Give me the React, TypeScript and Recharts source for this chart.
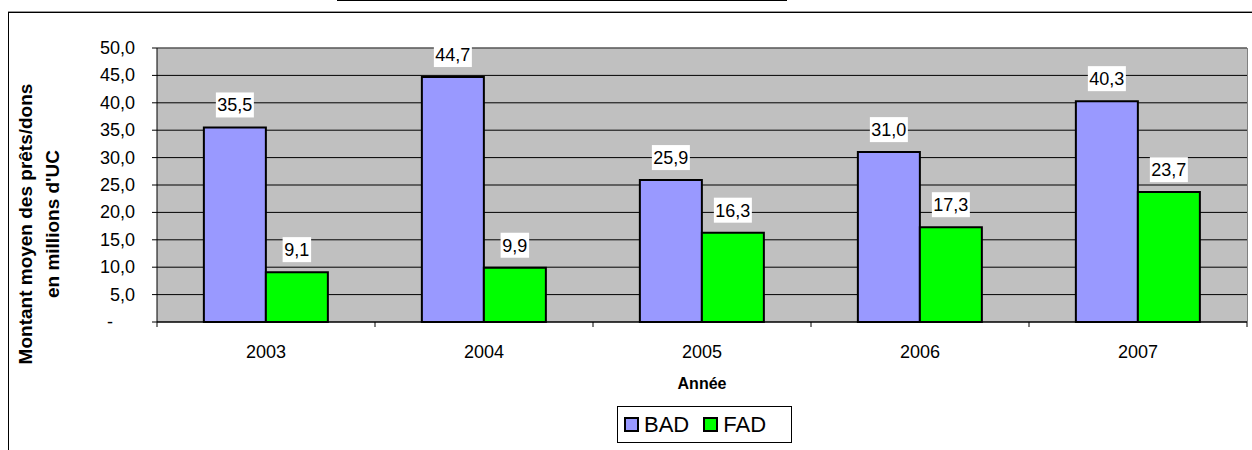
import React from 'react';
import {
  Bar, BarChart, CartesianGrid, LabelList, ReferenceLine, XAxis, YAxis,
} from 'recharts';

const years = ['2003', '2004', '2005', '2006', '2007'];
const badValues = [35.5, 44.7, 25.9, 31.0, 40.3];
const fadValues = [9.1, 9.9, 16.3, 17.3, 23.7];
const yTicks = [0, 5, 10, 15, 20, 25, 30, 35, 40, 45, 50];

const BAD_COLOR = '#9999FF';
const FAD_COLOR = '#00FF00';
const FONT = '"Liberation Sans", Arial, sans-serif';

const data = years.map((year, i) => ({ year, BAD: badValues[i], FAD: fadValues[i] }));

function fmt(v: number) {
  return v.toFixed(1).replace('.', ',');
}

function YTick(props: any) {
  const { x, y, payload } = props;
  const v = payload.value as number;
  return (
    <text x={v === 0 ? x - 22 : x} y={y} dy={6} textAnchor="end" fontSize={18} fill="#000" fontFamily={FONT}>
      {v === 0 ? '-' : fmt(v)}
    </text>
  );
}

function XTick(props: any) {
  const { x, y, payload, index, visibleTicksCount } = props;
  const off = payload.offset ?? 0;
  const axisY = y - 13;
  return (
    <g>
      <line x1={x - off} x2={x - off} y1={axisY} y2={axisY + 5} stroke="#000" />
      {index === visibleTicksCount - 1 && (
        <line x1={x + off} x2={x + off} y1={axisY} y2={axisY + 5} stroke="#000" />
      )}
      <text x={x} y={y} dy={23} textAnchor="middle" fontSize={18} fill="#000" fontFamily={FONT}>
        {payload.value}
      </text>
    </g>
  );
}

function ValueLabel(props: any) {
  const { x, y, width, value } = props;
  const cx = x + width / 2;
  const txt = fmt(Number(value));
  const w = txt.length * 9.5;
  return (
    <g>
      <rect x={cx - w / 2} y={y - 35} width={w} height={25} fill="#fff" />
      <text x={cx} y={y - 16} textAnchor="middle" fontSize={18} fill="#000" fontFamily={FONT}>{txt}</text>
    </g>
  );
}

function YLabel(props: any) {
  const { viewBox } = props;
  const cy = viewBox.y + viewBox.height / 2 + 39;
  const x1 = viewBox.x + 15;
  const x2 = viewBox.x + 42;
  return (
    <g fontFamily={FONT} fontWeight="bold" fontSize={19} fill="#000">
      <text x={x1} y={cy} textAnchor="middle" dominantBaseline="central" transform={`rotate(-90, ${x1}, ${cy})`}>
        Montant moyen des prêts/dons
      </text>
      <text x={x2} y={cy} textAnchor="middle" dominantBaseline="central" transform={`rotate(-90, ${x2}, ${cy})`}>
        en millions d'UC
      </text>
    </g>
  );
}

function XLabel(props: any) {
  const { viewBox } = props;
  return (
    <text x={viewBox.x + viewBox.width / 2} y={viewBox.y + 67} textAnchor="middle" fontSize={16} fontWeight="bold" fill="#000" fontFamily={FONT}>
      Année
    </text>
  );
}

function LegendBox() {
  const items = [
    { name: 'BAD', color: BAD_COLOR },
    { name: 'FAD', color: FAD_COLOR },
  ];
  return (
    <div style={{
      position: 'absolute', left: 617, top: 406, width: 167, height: 35, border: '1px solid #000',
      background: '#fff', display: 'flex', alignItems: 'center', paddingLeft: 6, boxSizing: 'content-box',
      fontFamily: FONT, fontSize: 22,
    }}>
      {items.map((it) => (
        <div key={it.name} style={{ display: 'flex', alignItems: 'center', marginRight: 14 }}>
          <span style={{ width: 11, height: 11, background: it.color, border: '2px solid #000', marginRight: 5, display: 'inline-block' }} />
          <span>{it.name}</span>
        </div>
      ))}
    </div>
  );
}

export default function App() {
  return (
    <div style={{ position: 'absolute', left: 0, top: 0, width: 1252, height: 450, overflow: 'hidden', background: '#fff' }}>
      <svg width={1252} height={450} style={{ position: 'absolute', left: 0, top: 0 }}>
        <line x1={337} x2={787} y1={0.5} y2={0.5} stroke="#000" />
        <line x1={8} x2={1252} y1={11.5} y2={11.5} stroke="#999" />
        <line x1={8} x2={1252} y1={12.5} y2={12.5} stroke="#000" />
        <line x1={8.5} x2={8.5} y1={12} y2={450} stroke="#000" />
      </svg>
      <div style={{ position: 'absolute', left: 0, top: 0 }}>
        <BarChart
          width={1252}
          height={450}
          data={data}
          margin={{ top: 48, right: 5, left: 10, bottom: 58 }}
          barCategoryGap="21.5%"
          barGap={0}
        >
          <CartesianGrid vertical={false} stroke="#000" fill="#C0C0C0" />
          <ReferenceLine y={50} stroke="#808080" />
          <XAxis
            dataKey="year"
            height={70}
            axisLine={{ stroke: '#000' }}
            tickLine={false}
            tickSize={5}
            tickMargin={8}
            tick={<XTick />}
            interval={0}
            label={<XLabel />}
          />
          <YAxis
            width={147}
            domain={[0, 50]}
            ticks={yTicks}
            interval={0}
            axisLine={{ stroke: '#000' }}
            tickLine={{ stroke: '#000' }}
            tickSize={5}
            tickMargin={17}
            tick={<YTick />}
            label={<YLabel />}
          />
          <Bar dataKey="BAD" fill={BAD_COLOR} stroke="#000" strokeWidth={2} isAnimationActive={false}>
            <LabelList dataKey="BAD" content={<ValueLabel />} />
          </Bar>
          <Bar dataKey="FAD" fill={FAD_COLOR} stroke="#000" strokeWidth={2} isAnimationActive={false}>
            <LabelList dataKey="FAD" content={<ValueLabel />} />
          </Bar>
        </BarChart>
      </div>
      <svg width={1252} height={450} style={{ position: 'absolute', left: 0, top: 0, pointerEvents: 'none' }}>
        <line x1={1247.5} x2={1247.5} y1={48} y2={322} stroke="#808080" />
      </svg>
      <LegendBox />
    </div>
  );
}
